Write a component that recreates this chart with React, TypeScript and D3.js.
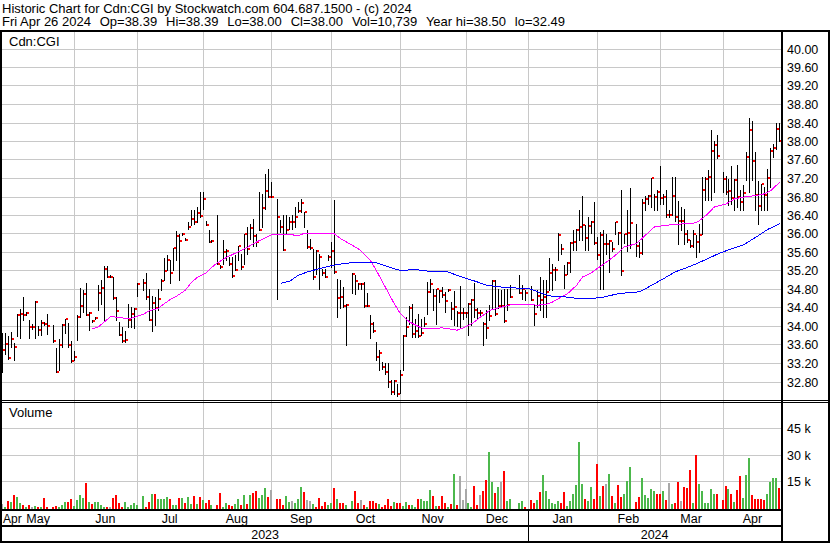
import React from 'react';
import * as d3 from 'd3';

// ---- Daily bars, one slot per weekday (Apr 28 2023 .. Apr 26 2024); null = market holiday ----
const highs: (number | null)[] = [
  33.84,33.84,33.78,33.87,33.63,34.27,34.36,34.63,34.30,34.12,
  34.05,34.53,34.00,34.12,34.09,34.27,null,34.02,33.53,33.71,
  34.05,34.16,34.07,33.67,33.46,34.23,34.82,34.77,34.93,34.30,
  34.12,34.20,34.88,35.00,35.30,35.30,35.10,35.05,34.63,34.09,
  33.98,33.89,34.47,34.41,34.38,34.93,null,35.02,35.15,34.81,
  34.64,34.63,34.81,35.02,35.46,35.54,35.42,35.69,36.05,35.99,
  36.01,35.90,36.25,36.51,36.50,36.57,36.90,36.90,36.27,36.07,
  35.85,null,36.39,35.31,35.85,35.67,35.49,35.49,35.53,35.74,
  35.56,35.99,36.14,36.21,36.32,35.99,36.90,36.86,37.29,37.40,
  37.11,null,36.75,36.30,36.39,36.39,36.36,36.39,36.57,36.68,
  36.75,36.46,36.07,35.89,35.67,35.64,35.56,35.24,35.24,35.53,
  35.82,36.72,35.02,34.99,34.84,34.48,null,35.15,35.10,34.94,
  34.92,34.95,34.71,34.23,34.09,33.66,33.48,33.22,33.19,33.19,
  32.83,32.83,32.75,33.05,33.80,34.20,34.43,34.47,34.15,34.27,
  34.16,34.20,34.95,35.01,34.79,34.81,34.77,34.84,34.74,34.80,
  34.52,34.75,34.32,34.86,34.38,34.30,34.50,34.59,34.92,34.38,
  34.34,34.09,34.34,34.45,34.99,34.99,34.81,34.77,34.81,34.81,
  34.88,null,null,35.11,34.88,34.77,null,34.86,34.48,34.77,
  35.06,34.99,34.99,35.46,35.35,35.28,36.00,35.78,35.31,35.38,
  35.82,36.08,36.10,36.50,36.82,36.18,36.36,36.28,36.68,35.92,
  36.03,36.07,35.99,35.85,35.82,36.25,36.03,36.95,35.99,36.51,
  36.99,null,36.20,35.82,36.75,36.82,36.84,37.20,36.86,36.93,
  37.47,36.86,36.93,36.50,37.22,37.22,36.71,36.57,36.53,36.07,
  35.85,36.07,35.96,36.21,37.22,37.22,37.38,38.24,38.01,38.14,
  null,37.33,37.25,37.18,37.47,37.18,37.49,36.93,37.04,37.76,
  38.50,38.44,37.76,37.13,37.07,37.00,37.40,37.85,37.94,38.40,
  38.39,
];

const lows: (number | null)[] = [
  33.01,33.40,33.28,33.55,33.26,33.78,33.74,34.12,34.23,33.75,
  33.94,33.74,33.80,33.80,34.02,33.82,null,33.66,33.00,33.04,
  33.55,33.84,33.55,33.22,33.26,33.69,34.20,34.30,34.23,33.92,
  34.08,34.15,34.34,34.48,34.14,35.06,35.06,34.59,34.12,33.80,
  33.66,33.66,33.98,33.98,33.96,34.64,null,34.77,34.59,34.12,
  33.89,34.02,34.35,34.77,35.00,35.20,34.92,35.20,35.42,34.99,
  35.96,35.85,36.10,36.18,36.21,36.25,36.36,36.54,36.18,35.82,
  35.82,null,35.35,35.26,35.35,35.42,35.31,35.07,35.20,35.42,
  35.24,35.35,35.56,35.89,35.74,35.74,36.07,36.14,36.54,36.79,
  36.79,null,34.59,36.03,35.64,36.00,36.10,36.10,36.14,36.46,
  36.46,36.14,35.69,35.67,35.02,35.13,34.81,35.10,35.05,35.42,
  35.28,35.15,34.20,34.38,34.41,33.58,null,34.71,34.70,34.81,
  34.81,34.41,34.43,33.75,33.87,33.26,33.04,33.08,32.97,32.68,
  32.54,32.54,32.49,32.55,33.04,33.78,34.05,33.76,33.76,33.76,
  33.80,33.99,34.27,34.74,34.34,34.04,34.52,34.63,34.30,34.76,
  34.16,34.03,34.00,33.98,34.16,34.20,33.80,34.02,34.20,34.18,
  34.20,33.58,33.73,34.12,34.38,34.23,34.38,34.41,34.09,34.34,
  34.63,null,null,34.71,34.59,34.56,null,34.56,34.02,34.41,
  34.34,34.20,34.20,34.77,34.77,34.99,35.42,35.56,34.83,35.13,
  35.17,35.64,35.64,35.85,35.85,35.64,35.64,36.00,35.78,35.45,
  34.80,34.80,35.56,35.17,35.63,35.99,35.78,35.10,35.80,35.63,
  35.69,null,35.51,35.49,35.56,36.50,36.64,36.57,36.50,36.50,
  36.64,36.64,36.36,36.36,36.39,36.28,35.78,36.07,35.78,35.81,
  35.71,35.71,35.49,35.60,35.99,36.72,36.72,36.72,36.90,37.64,
  null,36.90,36.86,36.61,36.64,36.51,36.57,36.50,36.50,37.15,
  36.90,37.15,36.50,36.21,36.50,36.50,36.50,37.00,37.65,37.83,
  38.00,
];

const closes: (number | null)[] = [
  33.49,33.62,33.31,33.72,33.55,34.24,34.25,34.24,34.28,33.98,
  33.98,34.51,33.92,34.07,34.05,34.01,null,33.68,33.01,33.58,
  34.02,34.15,33.58,33.25,33.33,34.20,34.43,34.69,34.24,34.28,
  34.10,34.17,34.71,34.82,35.23,35.07,35.07,34.61,34.33,33.81,
  33.68,33.69,34.12,34.25,34.37,34.91,null,34.93,34.63,34.12,
  34.50,34.38,34.58,34.97,35.19,35.43,35.15,35.68,35.94,35.84,
  35.98,35.87,36.14,36.31,36.25,36.45,36.38,36.74,36.18,35.82,
  35.84,null,35.35,35.28,35.59,35.62,35.34,35.08,35.22,35.73,
  35.28,35.99,35.66,36.12,35.94,35.82,36.07,36.55,36.92,36.79,
  36.79,null,36.36,36.14,35.64,36.07,36.25,36.25,36.36,36.49,
  36.67,36.46,35.71,35.69,35.05,35.62,35.49,35.15,35.07,35.49,
  35.62,35.17,34.61,34.63,34.43,34.45,null,35.12,34.97,34.90,
  34.90,34.43,34.44,34.04,33.89,33.32,33.42,33.12,33.01,32.79,
  32.58,32.81,32.52,32.95,33.78,33.98,34.39,33.83,33.89,33.78,
  33.85,34.04,34.74,34.90,34.65,34.81,34.76,34.67,34.54,34.78,
  34.37,34.42,34.28,34.28,34.28,34.28,34.48,34.56,34.35,34.28,
  34.28,34.04,33.96,34.21,34.97,34.26,34.43,34.43,34.11,34.45,
  34.63,null,null,34.71,34.80,34.71,null,34.56,34.26,34.65,
  34.56,34.62,34.74,35.15,35.21,35.22,35.96,35.67,35.10,35.36,
  35.80,35.81,36.07,36.15,36.18,35.90,36.17,36.25,35.79,35.53,
  35.97,35.77,35.77,35.84,35.66,36.25,36.01,35.19,35.98,36.02,
  36.23,null,35.73,35.58,36.66,36.74,36.82,37.19,36.80,36.90,
  36.76,36.80,36.41,36.41,36.82,36.36,36.28,36.28,35.98,35.85,
  35.74,35.98,35.82,35.96,36.95,37.18,37.23,37.78,37.91,37.67,
  null,37.18,36.90,36.91,36.77,37.15,36.80,36.68,36.87,37.65,
  38.23,37.56,36.83,36.59,37.06,36.83,37.21,37.78,37.85,38.26,
  38.00,
];

const volumes: (number | null)[] = [
  1710,200,3420,2850,6840,5890,2470,1140,200,1140,
  200,570,200,200,5320,200,null,200,570,200,
  1140,2660,3040,4370,760,3990,6840,4940,13680,2850,
  1900,3040,2850,950,200,200,200,4940,6840,2090,
  200,2850,200,950,2470,1140,null,6270,200,2660,
  7410,7410,4370,4560,4560,5700,4560,1330,1330,5130,
  5130,2090,5890,1520,6080,1710,5510,3990,2090,3990,
  1140,null,1140,7980,200,2090,1140,760,1520,4370,
  1140,6840,1520,6840,7790,9120,4940,6840,10830,5890,
  9690,null,4370,4560,1140,6270,2850,3420,2280,4560,
  11400,8550,3990,3420,1900,200,5130,570,3040,1140,
  2090,10830,4560,2280,2280,1140,null,3420,9120,2280,
  4180,950,200,3420,3420,2280,1520,200,1140,4560,
  570,2850,2090,2090,570,2850,1140,1330,200,4560,
  4560,3420,3610,9880,6270,570,570,6270,2090,200,
  1520,18810,1140,17670,4180,10260,2470,200,11970,1140,
  6840,9120,15390,31350,14440,7980,11400,14250,20520,3420,
  4750,null,null,2280,3610,200,null,3990,2470,3990,
  8550,18240,9120,4560,2280,1520,3420,2090,8550,570,
  3420,7410,12540,37050,12920,4750,3420,11400,4560,24510,
  6270,11970,13110,18810,6270,2280,12540,5700,7410,15010,
  22800,null,2850,5700,16530,6840,5130,10260,9120,7410,
  7410,9120,3990,13680,1710,2280,14250,3420,11400,10830,
  21090,2280,29640,13110,9120,2280,2280,10260,7410,7410,
  null,3990,11970,10260,7410,2850,9690,17670,5130,18240,
  27930,6840,4560,4560,4560,3990,7410,14250,16530,16530,
  10739,
];

// g = up day, r = down day, n = unchanged
const volDirs: (string | null)[] = [
  'n','g','r','g','r','g','g','r','g','r',
  'n','g','r','g','r','r',null,'r','r','g',
  'g','g','r','r','g','g','g','g','r','g',
  'r','g','g','g','g','r','n','r','r','r',
  'r','g','g','g','g','g',null,'g','r','r',
  'g','r','g','g','g','g','r','g','g','r',
  'g','r','g','g','r','g','r','g','r','r',
  'g',null,'r','r','g','g','r','r','g','g',
  'r','g','r','g','r','r','g','g','g','r',
  'n',null,'r','r','r','g','g','n','g','g',
  'g','r','n','n','g','r','r','r','r','g',
  'g','r','g','r','r','g',null,'g','r','r',
  'n','r','g','r','r','r','g','r','r','r',
  'r','g','r','r','g','g','r','g','g','r',
  'g','g','g','g','r','g','r','r','r','g',
  'r','g','r','n','n','n','g','g','r','r',
  'n','r','r','g','g','r','g','n','r','g',
  'g',null,null,'g','g','r',null,'r','r','g',
  'r','g','g','g','g','g','g','r','r','g',
  'g','g','g','g','g','r','g','g','r','r',
  'g','r','n','g','r','g','r','r','g','g',
  'g',null,'r','r','g','g','g','g','g','r',
  'r','g','r','n','g','r','r','n','r','r',
  'r','g','r','g','g','g','g','g','g','r',
  null,'r','r','g','r','g','r','r','g','g',
  'g','r','r','r','r','r','g','g','g','g',
  'r',
];

// moving averages: [slot, value]
const maShort: [number, number][] = [
  [30,33.94],[32,33.98],[34,34.09],[36,34.20],[39,34.19],[41,34.16],[43,34.17],[45,34.21],[47,34.25],[49,34.33],
  [52,34.38],[54,34.48],[56,34.57],[58,34.64],[61,34.77],[63,34.93],[65,35.05],[68,35.15],[71,35.33],[75,35.49],
  [78,35.58],[81,35.67],[85,35.82],[88,35.91],[90,35.98],[94,35.98],[97,35.97],[99,35.95],[101,36.01],[105,36.01],
  [108,36.01],[111,35.99],[113,35.89],[116,35.78],[119,35.67],[123,35.42],[125,35.20],[128,34.84],[131,34.48],[133,34.27],
  [136,34.09],[140,33.96],[142,33.94],[147,33.96],[150,33.93],[152,33.91],[154,33.96],[157,34.05],[160,34.20],[163,34.34],
  [167,34.41],[170,34.46],[174,34.47],[179,34.45],[182,34.47],[184,34.52],[187,34.63],[189,34.70],[192,34.88],[194,35.06],
  [197,35.15],[198,35.20],[202,35.38],[205,35.53],[208,35.71],[212,35.78],[215,35.96],[218,36.14],[221,36.17],[224,36.19],
  [228,36.21],[232,36.23],[234,36.32],[236,36.43],[238,36.57],[242,36.64],[245,36.75],[249,36.80],[252,36.82],[255,36.86],
  [257,36.93],[260,37.11],
];
const maLong: [number, number][] = [
  [93,34.92],[96,34.97],[99,35.10],[102,35.17],[106,35.24],[109,35.29],[112,35.33],[117,35.37],[121,35.38],[125,35.37],
  [128,35.30],[131,35.24],[133,35.20],[138,35.22],[143,35.18],[149,35.17],[153,35.07],[158,34.97],[162,34.88],[167,34.84],
  [172,34.82],[176,34.81],[179,34.74],[183,34.65],[188,34.63],[192,34.60],[197,34.60],[200,34.61],[206,34.70],[213,34.74],
  [216,34.84],[221,35.02],[225,35.17],[230,35.29],[234,35.40],[239,35.55],[243,35.65],[248,35.76],[252,35.92],[256,36.09],
  [260,36.21],
];

const priceTicks = [32.8,33.2,33.6,34.0,34.4,34.8,35.2,35.6,36.0,36.4,36.8,37.2,37.6,38.0,38.4,38.8,39.2,39.6,40.0];
const volTicks = [15000, 30000, 45000];
const volTickLabels = ['15 k', '30 k', '45 k'];
const monthNames = ['May','Jun','Jul','Aug','Sep','Oct','Nov','Dec','Jan','Feb','Mar','Apr'];
const monthStarts = [0, 24, 45, 67, 90, 110, 133, 155, 176, 199, 220, 241];
const yearNames = ['2023', '2024'];
const yearStarts = [0, 176];

const NB = '\u00A0';
const titleLine1 = 'Historic Chart for Cdn:CGI by Stockwatch.com 604.687.1500 - (c) 2024';
const titleParts2 = ['Fri Apr 26 2024', 'Op=38.39', 'Hi=38.39', 'Lo=38.00', 'Cl=38.00', 'Vol=10,739', 'Year hi=38.50', 'lo=32.49'];

const FONT = '"Liberation Sans", Arial, Helvetica, sans-serif';
const GRID = '#c8c8c8';
const VCOL: Record<string, string> = { g: '#4cb84c', r: '#ff0000', n: '#a8a8a8' };

export default function App() {
  const N = 261;
  const xS = d3.scaleLinear().domain([0, 260]).range([2.3, 779.3]);
  const px = (i: number) => Math.round(xS(i));
  const yP = d3.scaleLinear().domain([32.8, 40]).range([381.5, 48.5]);
  const yV = d3.scaleLinear().domain([0, 45000]).range([507, 428.3]);

  const PL = 2, PR = 781, PT = 32, PB = 400, VT = 403, VB = 509;

  const lineGen = d3.line<[number, number]>()
    .x((d) => xS(d[0]) + 0.5)
    .y((d) => yP(d[1]));

  const slots = d3.range(N);
  const monthEnd = (k: number) => (k + 1 < monthStarts.length ? xS(monthStarts[k + 1]) : xS(N));
  const yearX0 = (k: number) => (k === 0 ? PL : xS(yearStarts[k]));
  const yearX1 = (k: number) => (k + 1 < yearStarts.length ? xS(yearStarts[k + 1]) : PR);

  return (
    <svg width={830} height={543} style={{ position: 'absolute', left: 0, top: 0, display: 'block', background: '#fff' }}
      fontFamily={FONT}>
      <defs>
        <clipPath id="cp-price"><rect x={PL} y={PT} width={PR - PL} height={PB - PT} /></clipPath>
        <clipPath id="cp-vol"><rect x={PL} y={VT} width={PR - PL} height={VB - VT} /></clipPath>
      </defs>
      <rect x={0} y={0} width={830} height={543} fill="#fff" />

      {/* title */}
      <text x={2} y={12.5} fontSize={13} fill="#000">{titleLine1}</text>
      <text x={2} y={26} fontSize={13} fill="#000">
        {titleParts2.map((p, k) => (
          <tspan key={'t' + k} dx={k ? 1.6 : 0}>{(k ? NB + ' ' : '') + p}</tspan>
        ))}
      </text>

      {/* grid */}
      <g shapeRendering="crispEdges" stroke={GRID} strokeWidth={1}>
        {priceTicks.map((t) => (
          <line key={'pg' + t} x1={PL} x2={PR} y1={Math.round(yP(t)) + 0.5} y2={Math.round(yP(t)) + 0.5} />
        ))}
        {volTicks.map((t) => (
          <line key={'vg' + t} x1={PL} x2={PR} y1={Math.round(yV(t)) + 0.5} y2={Math.round(yV(t)) + 0.5} />
        ))}
        {monthStarts.slice(1).map((s) => (
          <line key={'mg' + s} x1={px(s) + 0.5} x2={px(s) + 0.5} y1={PT} y2={VB} />
        ))}
      </g>

      {/* price bars */}
      <g clipPath="url(#cp-price)" shapeRendering="crispEdges">
        {slots.map((i) => {
          const h = highs[i], l = lows[i], c = closes[i];
          if (h == null || l == null || c == null) return null;
          const x = px(i);
          const y1 = Math.round(yP(h));
          const y2 = Math.round(yP(l));
          return (
            <g key={'b' + i}>
              <rect x={x} y={y1} width={1} height={Math.max(1, y2 - y1 + 1)} fill="#000" />
              <rect x={x + 1} y={Math.round(yP(c)) - 1} width={2} height={2} fill="#ff0000" />
            </g>
          );
        })}
        <path d={lineGen(maShort) || ''} fill="none" stroke="#ff00ff" strokeWidth={1} />
        <path d={lineGen(maLong) || ''} fill="none" stroke="#0000ff" strokeWidth={1} />
      </g>
      <text x={9} y={46} fontSize={13} fill="#000">Cdn:CGI</text>

      {/* volume bars */}
      <g clipPath="url(#cp-vol)" shapeRendering="crispEdges">
        {slots.map((i) => {
          const v = volumes[i], d = volDirs[i];
          if (v == null || d == null) return null;
          const top = Math.min(VB - 1, Math.round(yV(v)));
          return <rect key={'v' + i} x={px(i) - 1} y={top} width={2} height={VB - top} fill={VCOL[d]} />;
        })}
      </g>
      <text x={9} y={417} fontSize={13} fill="#000">Volume</text>

      {/* right axis labels */}
      {priceTicks.map((t) => (
        <text key={'pl' + t} x={787} y={Math.round(yP(t)) + 5} fontSize={12.5} fill="#000">{t.toFixed(2)}</text>
      ))}
      {volTicks.map((t, k) => (
        <text key={'vl' + t} x={787} y={Math.round(yV(t)) + 5} fontSize={12.5} fill="#000">{volTickLabels[k]}</text>
      ))}

      {/* date rows */}
      <text x={3} y={523} fontSize={12} fill="#000">Apr</text>
      {monthNames.map((m, k) => (
        <text key={'m' + k} x={(xS(monthStarts[k]) + monthEnd(k)) / 2} y={523} fontSize={12.5} textAnchor="middle" fill="#000">{m}</text>
      ))}
      {yearNames.map((yn, k) => (
        <text key={'y' + k} x={(yearX0(k) + yearX1(k)) / 2} y={539} fontSize={12.5} textAnchor="middle" fill="#000">{yn}</text>
      ))}

      {/* frame */}
      <g shapeRendering="crispEdges" fill="#000">
        <rect x={0} y={30} width={830} height={2} />
        <rect x={0} y={30} width={2} height={513} />
        <rect x={828} y={30} width={2} height={513} />
        <rect x={0} y={541} width={830} height={2} />
        <rect x={781} y={30} width={2} height={513} />
        <rect x={0} y={400} width={828} height={1} />
        <rect x={0} y={402} width={828} height={1} />
        <rect x={0} y={509} width={782} height={2} />
        <rect x={0} y={525} width={782} height={2} />
        <rect x={px(yearStarts[1])} y={511} width={1} height={30} />
      </g>
    </svg>
  );
}
